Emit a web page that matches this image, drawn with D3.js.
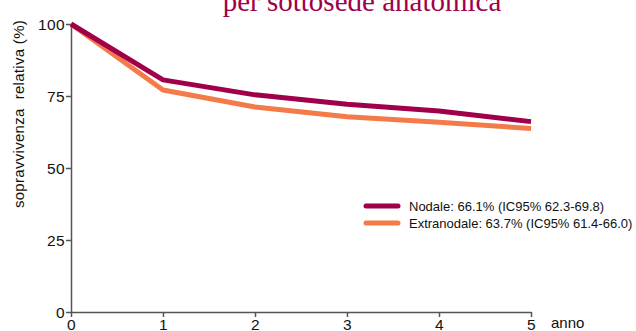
<!DOCTYPE html>
<html>
<head>
<meta charset="utf-8">
<script src="https://cdn.jsdelivr.net/npm/d3@7"></script>
<style>
  html, body { margin: 0; padding: 0; background: #fff; }
  #chart { width: 636px; height: 331px; overflow: hidden; }
  text { font-family: "Liberation Sans", Arial, sans-serif; }
  .axis path, .axis line { stroke: #555; stroke-width: 1.5px; }
  .axis text { font-size: 15.5px; fill: #111; font-family: "Liberation Sans", Arial, sans-serif; letter-spacing: 0.4px; }
</style>
</head>
<body>
<div id="chart"></div>
<script>
"use strict";

const years = [0, 1, 2, 3, 4, 5];
const nodale = [100, 80.6, 75.4, 72.1, 69.8, 66.1];
const extranodale = [100, 77.1, 71.2, 67.8, 65.9, 63.7];
const seriesNames = ["Nodale", "Extranodale"];
const legendLabels = [
  "Nodale: 66.1% (IC95% 62.3-69.8)",
  "Extranodale: 63.7% (IC95% 61.4-66.0)",
];
const yTicks = [0, 25, 50, 75, 100];
const colors = ["#a0004a", "#f47a48"];

function draw() {
  const w = 636;
  const h = 331;
  const left = 71;
  const right = 531;
  const top = 24;
  const bottom = 312;

  const svg = d3
    .select("#chart")
    .append("svg")
    .attr("width", w)
    .attr("height", h);

  const xScale = d3.scaleLinear().domain([0, 5]).range([left, right]);
  const yScale = d3.scaleLinear().domain([0, 100]).range([bottom, top]);

  // title (its first line is outside the picture)
  svg
    .append("text")
    .text("per sottosede anatomica")
    .attr("x", 362)
    .attr("y", 11)
    .attr("text-anchor", "middle")
    .style("font-family", "'Liberation Serif', 'DejaVu Serif', serif")
    .style("font-size", "29px")
    .style("fill", "#a0004a");

  // axes
  svg
    .append("g")
    .attr("class", "axis")
    .attr("transform", `translate(0, ${bottom})`)
    .call(
      d3.axisBottom(xScale).tickValues(years).tickFormat(d3.format("d"))
        .tickSize(5).tickSizeOuter(0).tickPadding(2)
    );

  svg
    .append("g")
    .attr("class", "axis")
    .attr("transform", `translate(${left}, 0)`)
    .call(
      d3.axisLeft(yScale).tickValues(yTicks).tickFormat(d3.format("d"))
        .tickSize(5).tickSizeOuter(0).tickPadding(1)
    )
    .selectAll("text")
    .attr("dy", "0.36em");

  svg
    .append("text")
    .text("anno")
    .attr("x", 551)
    .attr("y", 328)
    .style("font-size", "15px")
    .style("fill", "#111");

  svg
    .append("text")
    .text("sopravvivenza  relativa (%)")
    .attr("transform", `translate(24, 114) rotate(-90)`)
    .attr("text-anchor", "middle")
    .style("font-size", "15px")
    .style("letter-spacing", "0.3px")
    .style("white-space", "pre")
    .style("fill", "#111");

  // lines
  const line = d3
    .line()
    .x((d, i) => xScale(years[i]))
    .y((d) => yScale(d));

  [extranodale, nodale].forEach((s, k) => {
    svg
      .append("path")
      .datum(s)
      .attr("d", line)
      .attr("fill", "none")
      .attr("stroke", colors[1 - k])
      .attr("stroke-width", 5)
      .attr("stroke-linejoin", "round");
  });

  // legend
  const legend = svg
    .append("g")
    .selectAll("g")
    .data(seriesNames)
    .enter()
    .append("g")
    .attr("transform", (d, i) => `translate(0, ${206 + i * 17})`);

  legend
    .append("line")
    .attr("x1", 366)
    .attr("x2", 398)
    .attr("stroke", (d, i) => colors[i])
    .attr("stroke-width", 5)
    .attr("stroke-linecap", "round");

  legend
    .append("text")
    .text((d, i) => legendLabels[i])
    .attr("x", 409)
    .attr("dy", "0.36em")
    .style("font-size", "13px")
    .style("fill", "#111");
}

draw();
</script>
</body>
</html>
